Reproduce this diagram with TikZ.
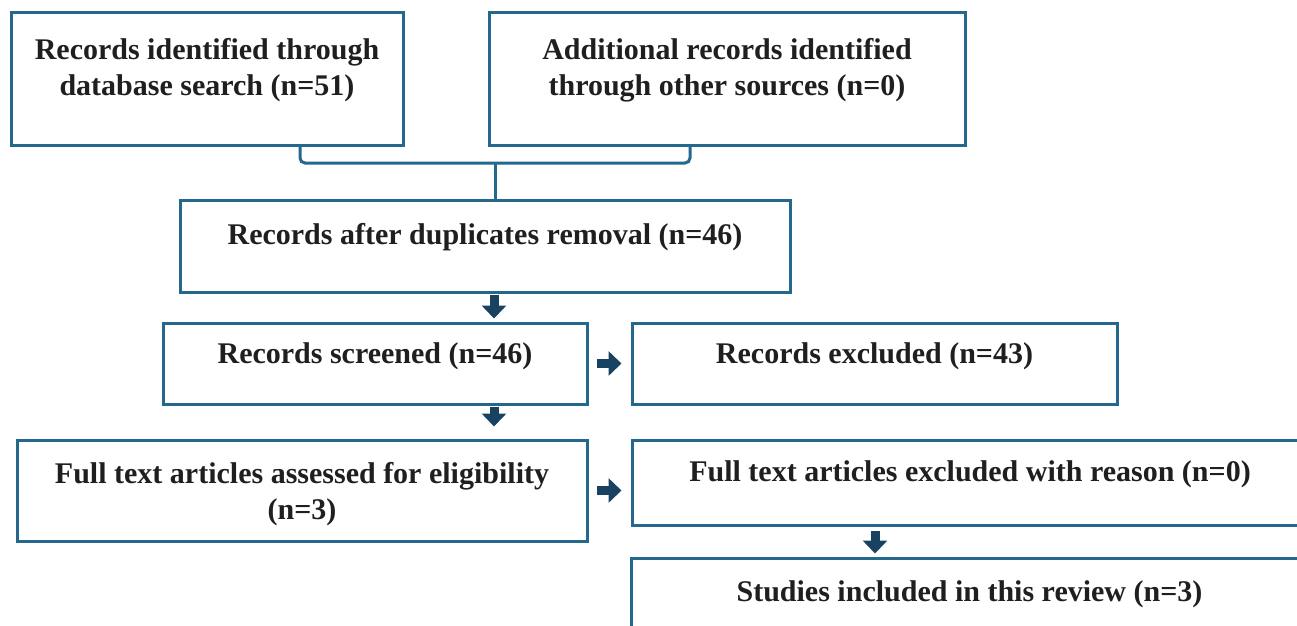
\documentclass[tikz,border=0pt]{standalone}
\usepackage{fontspec}
\setmainfont{Liberation Serif}
\usetikzlibrary{arrows.meta, positioning}
\definecolor{boxblue}{RGB}{36,104,142}
\definecolor{arrowblue}{RGB}{24,66,96}
\tikzset{
  box/.style={draw=boxblue, line width=3pt, inner sep=0pt},
  txt/.style={font=\bfseries\fontsize{30}{36}\selectfont, align=center, inner sep=0pt, text=black!88},
  link/.style={draw=boxblue, line width=3pt},
  fat/.style={draw=arrowblue, line width=9pt, -{Triangle[length=13pt, width=24pt]}}
}
\begin{document}
\begin{tikzpicture}[x=1pt, y=-1pt]
  \clip (0,0) rectangle (1297,625);
  % sources
  \node[box, minimum width=392pt, minimum height=133pt] (db) at (207,78.5) {};
  \node[txt, below=28pt of db.north] (dbtxt) {Records identified through\\database search (n=51)};
  \node[box, minimum width=476pt, minimum height=133pt] (other) at (727,78.5) {};
  \node[txt, below=28pt of other.north] (othertxt) {Additional records identified\\through other sources (n=0)};
  % screening
  \node[box, minimum width=610pt, minimum height=92pt] (dup) at (485,246) {};
  \node[txt, below=25pt of dup.north] (duptxt) {Records after duplicates removal (n=46)};
  \node[box, minimum width=424pt, minimum height=81pt] (screen) at (375,363.5) {};
  \node[txt, below=21pt of screen.north] (screentxt) {Records screened (n=46)};
  \node[box, minimum width=485pt, minimum height=81pt] (excl) at (874.5,363.5) {};
  \node[txt, below=21pt of excl.north] (excltxt) {Records excluded (n=43)};
  % eligibility
  \node[box, minimum width=570pt, minimum height=101pt] (full) at (302,490.5) {};
  \node[txt, below=24pt of full.north] (fulltxt) {Full text articles assessed for eligibility\\(n=3)};
  \node[box, minimum width=676pt, minimum height=85pt] (fullex) at (970,482.5) {};
  \node[txt, below=22pt of fullex.north] (fullextxt) {Full text articles excluded with reason (n=0)};
  \node[box, minimum width=677pt, minimum height=102pt] (incl) at (969.5,609) {};
  \node[txt, below=24pt of incl.north] (incltxt) {Studies included in this review (n=3)};
  % connectors
  \coordinate (join) at (495,163);
  \coordinate (axis) at (494,0);
  \coordinate (axis2) at (875,0);
  \draw[link, rounded corners=5pt] ([xshift=93pt]db.south) |- (join) -| ([xshift=-37pt]other.south);
  \draw[link] (join) -- (join |- dup.north);
  \draw[fat, shorten <=1pt, shorten >=3pt] (dup.south -| axis) -- (screen.north -| axis);
  \draw[fat, shorten <=1pt, shorten >=12pt] (screen.south -| axis) -- (full.north -| axis);
  \draw[fat, shorten <=8pt, shorten >=9pt] (screen.east) -- (excl.west);
  \draw[fat, shorten <=8pt, shorten >=9pt] (full.east) -- (full.east -| fullex.west);
  \draw[fat, shorten <=4pt, shorten >=3pt] (fullex.south -| axis2) -- (incl.north -| axis2);
\end{tikzpicture}
\end{document}
